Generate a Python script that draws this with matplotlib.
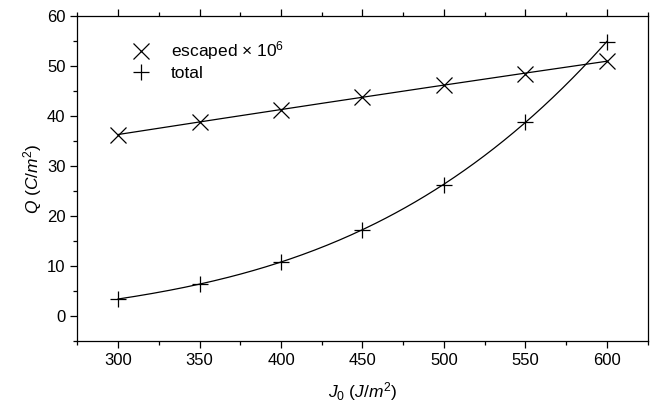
import numpy as np
import matplotlib; matplotlib.use("Agg")
import matplotlib.pyplot as plt
from matplotlib.ticker import MultipleLocator

plt.rcParams["font.family"] = ["Liberation Sans", "DejaVu Sans"]
plt.rcParams["mathtext.fontset"] = "custom"
plt.rcParams["mathtext.rm"] = "Liberation Sans"
plt.rcParams["mathtext.it"] = "Liberation Sans:italic"

# data
j0 = [300, 350, 400, 450, 500, 550, 600]
escaped = [36.3, 38.8, 41.3, 43.8, 46.2, 48.5, 51.0]
total = [3.4, 6.4, 10.8, 17.3, 26.3, 38.8, 54.9]

x = np.array(j0, float)
xf = np.linspace(x.min(), x.max(), 200)
# fitted curves, as in the original plot
fit_esc = np.polyval(np.polyfit(x, escaped, 2), xf)
fit_tot = np.polyval(np.polyfit(x, total, 3), xf)

fig = plt.figure(figsize=(6.68, 4.07), dpi=100)
ax = fig.add_axes([0.1157, 0.162, 0.8539, 0.7987])

ax.plot(xf, fit_esc, color="k", lw=0.9)
ax.plot(xf, fit_tot, color="k", lw=0.9)
ax.plot(x, escaped, ls="none", marker="x", ms=12, mew=0.9, color="k", label="escaped \u00d7 10$^6$")
ax.plot(x, total, ls="none", marker="+", ms=12, mew=0.9, color="k", label="total")

ax.set_xlim(275, 625); ax.set_ylim(-5, 60)
ax.xaxis.set_major_locator(MultipleLocator(50)); ax.xaxis.set_minor_locator(MultipleLocator(25))
ax.yaxis.set_major_locator(MultipleLocator(10)); ax.yaxis.set_minor_locator(MultipleLocator(5))
ax.tick_params(which="both", direction="out", top=True, right=False, labelsize=12, width=0.9)
ax.tick_params(which="major", length=5)
ax.tick_params(which="minor", length=3)
for s in ax.spines.values():
    s.set_linewidth(0.9)

ax.set_xlabel("$J_0$ $(J/m^2)$", fontsize=12.5, labelpad=9)
ax.set_ylabel("$Q$ $(C/m^2)$", fontsize=12.5, labelpad=2)

ax.legend(loc="upper left", bbox_to_anchor=(0.07, 0.96), frameon=False, fontsize=12.5,
          handletextpad=1.0, borderaxespad=0.2, labelspacing=0.2, handlelength=1.5)

fig.savefig("out.png", dpi=100)
